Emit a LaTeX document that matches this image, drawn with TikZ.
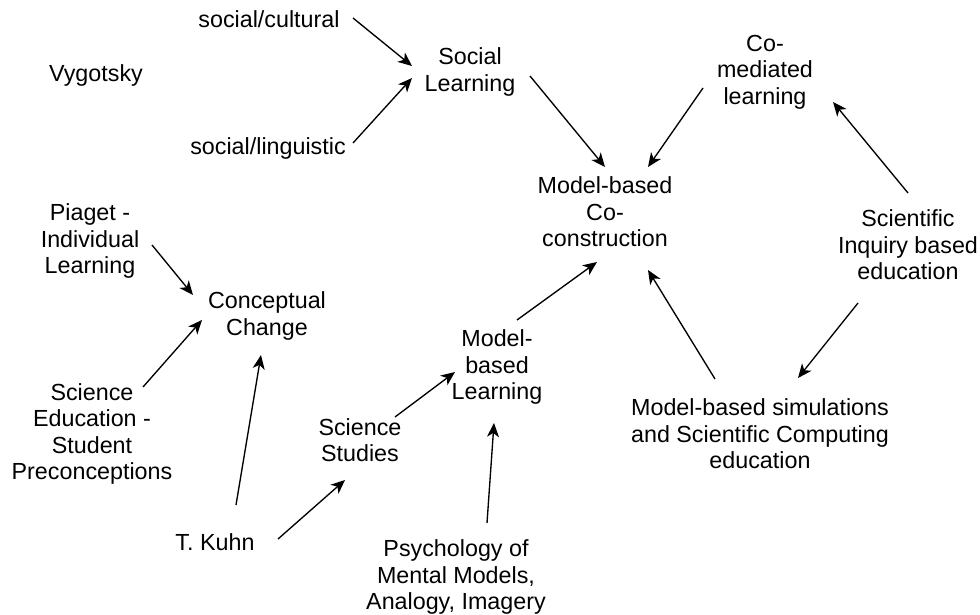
\documentclass[tikz,border=0pt]{standalone}
\usepackage{fontspec}
\setmainfont{Liberation Sans}
\usetikzlibrary{arrows.meta}
\tikzset{
  lbl/.style={inner sep=0pt, outer sep=0pt, align=center, font=\fontsize{23.3}{26.6}\selectfont},
  arr/.style={line width=1.35pt, -{Stealth[length=14pt,width=12pt,inset=4pt]}}
}
\begin{document}
\begin{tikzpicture}[x=1pt,y=-1pt]
\useasboundingbox (0,0) rectangle (980,614);
\node[lbl] (sc)   at (269,19)  {social/cultural};
\node[lbl] (sling) at (268,148) {social/linguistic};
\node[lbl] (vy)   at (96,75)   {Vygotsky};
\node[lbl] (sl)   at (470,72)  {Social\\Learning};
\node[lbl] (cm)   at (765,72)  {Co-\\mediated\\learning};
\node[lbl] (mbcc) at (605,212) {Model-based\\Co-\\construction};
\node[lbl] (sib)  at (908,245) {Scientific\\Inquiry based\\education};
\node[lbl] (pig)  at (90,241)  {Piaget -\\Individual\\Learning};
\node[lbl] (cc)   at (267,316) {Conceptual\\Change};
\node[lbl] (sep)  at (92,434)  {Science\\Education -\\Student\\Preconceptions};
\node[lbl] (tk)   at (215,542) {T. Kuhn};
\node[lbl] (ss)   at (360,440) {Science\\Studies};
\node[lbl] (mbl)  at (497,367) {Model-\\based\\Learning};
\node[lbl] (psy)  at (456,577) {Psychology of\\Mental Models,\\Analogy, Imagery};
\node[lbl] (mbs)  at (760,434) {Model-based simulations\\and Scientific Computing\\education};

\draw[arr] ([shift={(84,-1)}]sc.center) -- ([shift={(-58,-6)}]sl.center);
\draw[arr] ([shift={(85,-5)}]sling.center) -- ([shift={(-58,6)}]sl.center);
\draw[arr] ([shift={(60,4)}]sl.center) -- ([shift={(0,-45)}]mbcc.center);
\draw[arr] ([shift={(-62,16)}]cm.center) -- ([shift={(43,-45)}]mbcc.center);
\draw[arr] ([shift={(0,-52)}]sib.center) -- ([shift={(68,30)}]cm.center);
\draw[arr] ([shift={(-50,58)}]sib.center) -- ([shift={(38,-56)}]mbs.center);
\draw[arr] ([shift={(-45,-55)}]mbs.center) -- ([shift={(43,58)}]mbcc.center);
\draw[arr] ([shift={(20,-47)}]mbl.center) -- ([shift={(-8,50)}]mbcc.center);
\draw[arr] ([shift={(35,-23)}]ss.center) -- ([shift={(-42,5)}]mbl.center);
\draw[arr] ([shift={(31,-54)}]psy.center) -- ([shift={(-3,56)}]mbl.center);
\draw[arr] ([shift={(63,-3)}]tk.center) -- ([shift={(-15,40)}]ss.center);
\draw[arr] ([shift={(21,-37)}]tk.center) -- ([shift={(-6,39)}]cc.center);
\draw[arr] ([shift={(51,-47)}]sep.center) -- ([shift={(-65,4)}]cc.center);
\draw[arr] ([shift={(62,4)}]pig.center) -- ([shift={(-74,-21)}]cc.center);
\end{tikzpicture}
\end{document}
